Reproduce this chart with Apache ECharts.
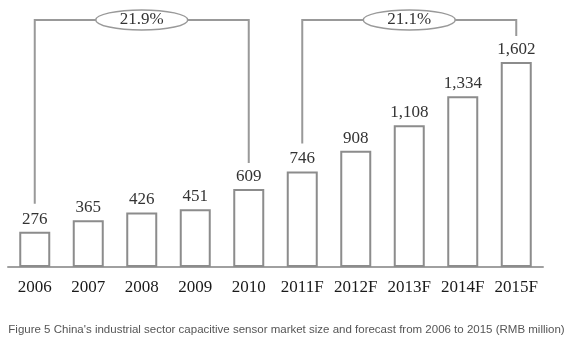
<!DOCTYPE html>
<html>
<head>
<meta charset="utf-8">
<script src="https://cdn.jsdelivr.net/npm/echarts@6/dist/echarts.min.js"></script>
<style>
  html, body { margin: 0; padding: 0; background: #fff; }
  #chart { width: 573px; height: 353px; }
</style>
</head>
<body>
<div id="chart"></div>
<script>
// 年份
var years = ["2006", "2007", "2008", "2009", "2010", "2011F", "2012F", "2013F", "2014F", "2015F"];
// 市场规模 (RMB million)
var marketSize = [276, 365, 426, 451, 609, 746, 908, 1108, 1334, 1602];
// 增长率括号: 起止年份下标
var bracketStart = [0, 5];
var bracketEnd = [4, 9];
var growthRates = ["21.9%", "21.1%"];
var captionText = "Figure 5 China's industrial sector capacitive sensor market size and forecast from 2006 to 2015 (RMB million)";

var myChart = echarts.init(document.getElementById("chart"));

var option = {
  animation: false,
  title: {
    text: captionText,
    left: "center",
    top: 319,
    textStyle: {
      fontFamily: "Liberation Sans",
      fontSize: 11.5,
      fontWeight: "normal",
      color: "#555"
    }
  },
  grid: {
    left: 8,
    right: 30,
    top: 11,
    bottom: 86
  },
  xAxis: {
    type: "category",
    data: years,
    axisLine: { lineStyle: { color: "#a0a0a0", width: 2 } },
    axisTick: { show: false },
    axisLabel: {
      interval: 0,
      fontFamily: "Liberation Serif",
      fontSize: 17,
      color: "#1a1a1a",
      margin: 12
    }
  },
  yAxis: {
    type: "value",
    min: 0,
    max: 2000,
    show: false,
    splitLine: { show: false }
  },
  series: [
    {
      type: "bar",
      data: marketSize,
      barWidth: 31,
      itemStyle: {
        color: "#fff",
        borderColor: "#8c8c8c",
        borderWidth: 2
      },
      label: {
        show: true,
        position: "top",
        distance: 4,
        fontFamily: "Liberation Serif",
        fontSize: 17,
        color: "#333",
        formatter: function (p) {
          return p.value.toLocaleString("en-US");
        }
      }
    },
    {
      // 增长率括号
      type: "custom",
      data: bracketStart.map(function (s, i) { return [s, bracketEnd[i]]; }),
      z: 5,
      renderItem: function (params, api) {
        var s = api.value(0), e = api.value(1);
        var p0 = api.coord([s, marketSize[s]]);
        var p1 = api.coord([e, marketSize[e]]);
        var yTop = api.coord([s, 1930])[1];
        var cx = (p0[0] + p1[0]) / 2;
        return {
          type: "group",
          children: [
            {
              type: "polyline",
              shape: { points: [[p0[0], p0[1] - 28], [p0[0], yTop], [p1[0], yTop], [p1[0], p1[1] - 26]] },
              style: { fill: null, stroke: "#999", lineWidth: 2 }
            },
            {
              type: "ellipse",
              shape: { cx: cx, cy: yTop, rx: 46, ry: 10 },
              style: { fill: "#fff", stroke: "#999", lineWidth: 1.5 }
            },
            {
              type: "text",
              style: {
                text: growthRates[params.dataIndex],
                x: cx,
                y: yTop,
                align: "center",
                verticalAlign: "middle",
                fontFamily: "Liberation Serif",
                fontSize: 17,
                fill: "#333"
              }
            }
          ]
        };
      }
    }
  ]
};

myChart.setOption(option);
</script>
</body>
</html>
